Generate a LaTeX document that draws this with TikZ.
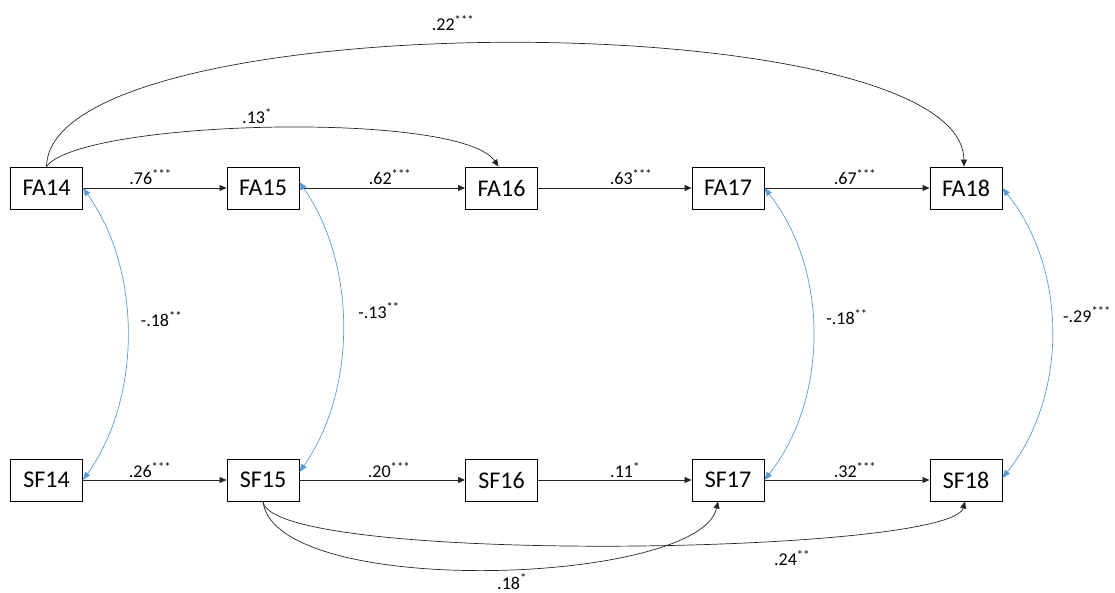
\documentclass[tikz,border=0pt]{standalone}
\usepackage{fontspec}
\setmainfont{Carlito}
\usetikzlibrary{arrows.meta}
\definecolor{corblue}{RGB}{91,155,213}
\begin{document}
\begin{tikzpicture}[x=1pt,y=-1pt,
  var/.style={draw=black, line width=0.9pt, minimum width=72pt, minimum height=42pt, inner sep=0pt, font=\fontsize{24}{28}\selectfont},
  reg/.style={line width=0.7pt, draw=black!85, -{Triangle[length=7pt,width=6pt]}},
  cor/.style={line width=0.7pt, draw=corblue, {Triangle[length=8pt,width=6pt]}-{Triangle[length=8pt,width=6pt]}},
  lab/.style={font=\fontsize{18}{20}\selectfont, inner sep=0pt, anchor=base}]
\useasboundingbox (0,0) rectangle (1115,593);

% variables
\node[var] (FA14) at (46.5,188) {FA14};
\node[var] (FA15) at (263,188) {FA15};
\node[var] (FA16) at (501.5,188) {FA16};
\node[var] (FA17) at (728,188) {FA17};
\node[var] (FA18) at (966,188) {FA18};
\node[var] (SF14) at (46.5,480) {SF14};
\node[var] (SF15) at (263,480) {SF15};
\node[var] (SF16) at (501.5,480) {SF16};
\node[var] (SF17) at (728,480) {SF17};
\node[var] (SF18) at (966,480) {SF18};

% autoregressive paths
\draw[reg] (FA14.east) -- (FA15.west);
\draw[reg] (FA15.east) -- (FA16.west);
\draw[reg] (FA16.east) -- (FA17.west);
\draw[reg] (FA17.east) -- (FA18.west);
\draw[reg] (SF14.east) -- (SF15.west);
\draw[reg] (SF15.east) -- (SF16.west);
\draw[reg] (SF16.east) -- (SF17.west);
\draw[reg] (SF17.east) -- (SF18.west);

% lagged paths
\draw[reg] (FA14.north) .. controls (80,120) and (460,110) .. ([xshift=-3pt]FA16.north);
\draw[reg] (FA14.north) .. controls (50,2) and (962,2) .. ([xshift=-2pt]FA18.north);
\draw[reg] (SF15.south) .. controls (275,600) and (700,585) .. ([xshift=-10pt]SF17.south);
\draw[reg] (SF15.south) .. controls (270,565) and (950,555) .. ([xshift=-1pt]SF18.south);

% correlations
\draw[cor] (FA14.east) .. controls (142,270) and (142,398) .. (SF14.east);
\draw[cor] ([yshift=6pt]FA15.east) .. controls (357,265) and (357,390) .. ([yshift=8pt]SF15.east);
\draw[cor] (FA17.east) .. controls (829,270) and (829,398) .. (SF17.east);
\draw[cor] (FA18.east) .. controls (1068,270) and (1068,396) .. ([yshift=2pt]SF18.east);

% labels
\node[lab] (l1) at (150.5,185) {.76\textsuperscript{***}};
\node[lab] (l2) at (390,184.5) {.62\textsuperscript{***}};
\node[lab] (l3) at (631,184.5) {.63\textsuperscript{***}};
\node[lab] (l4) at (855,184.5) {.67\textsuperscript{***}};
\node[lab] (l5) at (150,477.5) {.26\textsuperscript{***}};
\node[lab] (l6) at (389,477.5) {.20\textsuperscript{***}};
\node[lab] (l7) at (625,477.5) {.11\textsuperscript{*}};
\node[lab] (l8) at (855,477.5) {.32\textsuperscript{***}};
\node[lab] (l9) at (257,123.5) {.13\textsuperscript{*}};
\node[lab] (l10) at (453,30.5) {.22\textsuperscript{***}};
\node[lab] (l11) at (792,565.5) {.24\textsuperscript{**}};
\node[lab] (l12) at (512,589) {.18\textsuperscript{*}};
\node[lab] (l13) at (161.5,326.5) {-.18\textsuperscript{**}};
\node[lab] (l14) at (379,318) {-.13\textsuperscript{**}};
\node[lab] (l15) at (847,324.5) {-.18\textsuperscript{**}};
\node[lab] (l16) at (1087,322) {-.29\textsuperscript{***}};
\end{tikzpicture}
\end{document}
